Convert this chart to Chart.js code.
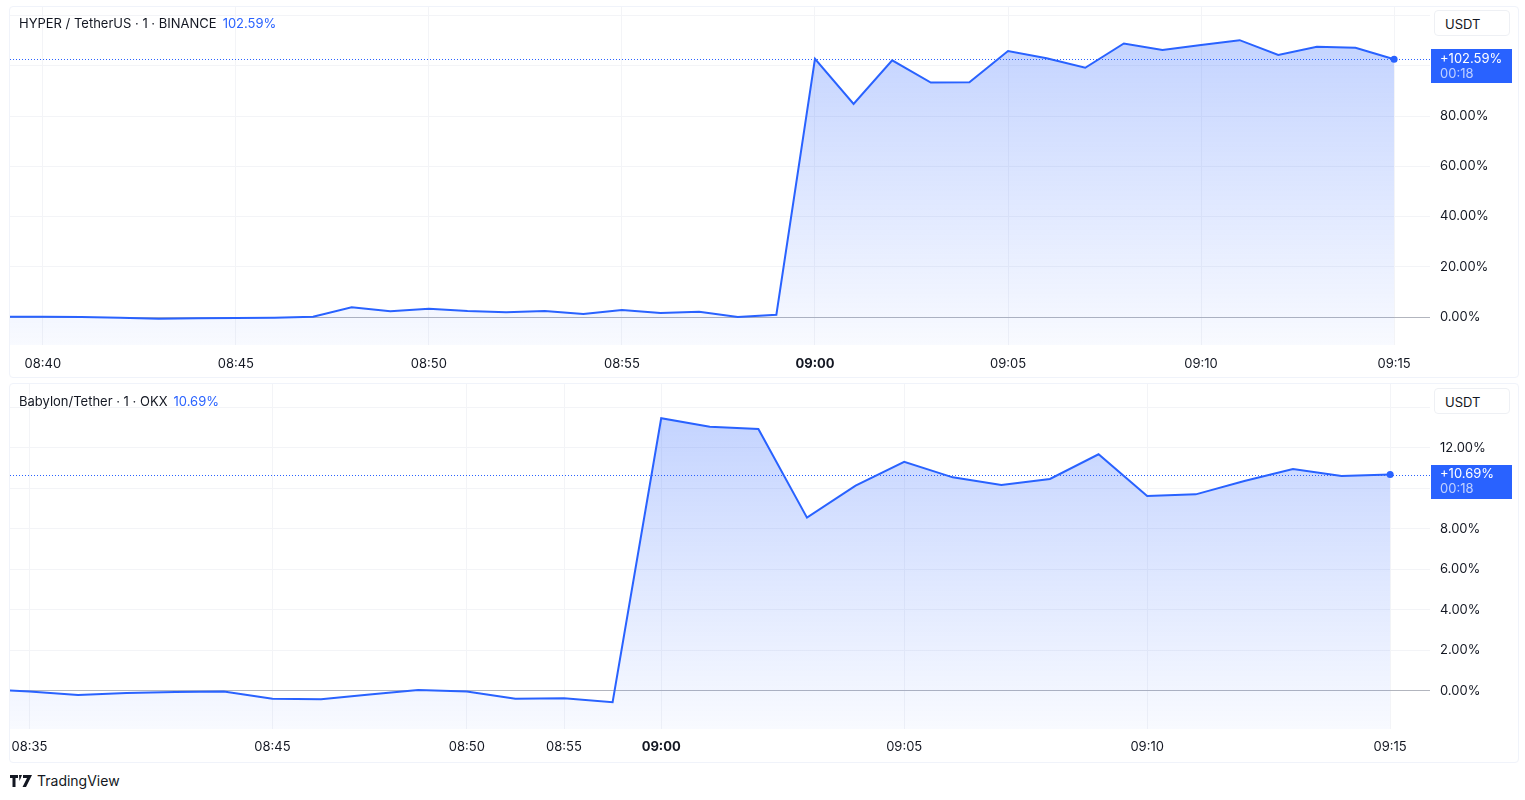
<!DOCTYPE html>
<html>
<head>
<meta charset="utf-8">
<title>HYPER vs Babylon</title>
<script src="https://cdn.jsdelivr.net/npm/chart.js@4.4.1/dist/chart.umd.min.js"></script>
<style>
  body { margin: 0; background: #ffffff; font-family: Inter, "Noto Sans", sans-serif; color: #131722; }
  #wrap { position: relative; width: 1525px; height: 800px; overflow: hidden; }
  .panel { position: absolute; left: 9px; width: 1508px; border: 1px solid #f0f3fa; border-radius: 4px; }
  canvas { position: absolute; left: 0; }
  .head { position: absolute; left: 19px; font-size: 13px; white-space: nowrap; }
  .head .pct { color: #2962ff; margin-left: 6px; }
  .unit { position: absolute; left: 1434px; width: 76px; height: 26px; border: 1px solid #eef0f4;
          border-radius: 4px; background: #fff; font-size: 13px; line-height: 26px; box-sizing: border-box;
          padding-left: 10px; }
  #brand { position: absolute; left: 10px; top: 772px; font-size: 14px; display: flex; align-items: center; }
  #brand svg { margin-right: 5px; }
</style>
</head>
<body>
<div id="wrap">
  <div class="panel" style="top:6px;height:370px"></div>
  <div class="panel" style="top:383px;height:378px"></div>
  <canvas id="topChart" width="1525" height="380" style="top:0"></canvas>
  <canvas id="bottomChart" width="1525" height="385" style="top:380px"></canvas>
  <div class="head" style="top:15px">HYPER / TetherUS · 1 · BINANCE<span class="pct">102.59%</span></div>
  <div class="head" style="top:393px">Babylon/Tether · 1 · OKX<span class="pct">10.69%</span></div>
  <div class="unit" style="top:10px">USDT</div>
  <div class="unit" style="top:388px">USDT</div>
  <div id="brand">
    <svg width="22" height="12" viewBox="0 0 22 12"><path d="M0 0h8v3H5.5v9h-3V3H0z M9 0h3l-2.5 6z M13 0h9l-6 12h-3.5l4.5-9H13z" fill="#131722"/></svg>
    TradingView
  </div>
</div>
<script>
// HYPER / TetherUS, 1 min candles, % change; slot 0 = 09:00, first slot = -21 (08:39)
const topValues = [
  0.1, 0.1, 0.0, -0.3, -0.7, -0.5, -0.4, -0.3, 0.1, 3.9, 2.3,
  3.3, 2.4, 1.9, 2.4, 1.2, 2.8, 1.6, 2.1, 0.0, 0.9,
  102.8, 84.8, 102.2, 93.3, 93.4, 105.9, 103.0, 99.2, 108.9, 106.3,
  108.3, 110.2, 104.3, 107.6, 107.2, 102.59
];
const topFirstSlot = -21;
const topTickSlots = [-20, -15, -10, -5, 0, 5, 10, 15];
const topTickLabels = ['08:40', '08:45', '08:50', '08:55', '09:00', '09:05', '09:10', '09:15'];
const topYTicks = [0, 20, 40, 60, 80, 100, 120];

// Babylon/Tether, candles are sparse before 09:00 so the axis is by bar, not by minute
const bottomValues = [
  0.1, -0.03, -0.2, -0.1, -0.05, -0.03, -0.39, -0.41, -0.18, 0.05,
  -0.03, -0.39, -0.36, -0.56,
  13.47, 13.05, 12.94, 8.56, 10.14, 11.32, 10.55, 10.17, 10.47, 11.69,
  9.63, 9.71, 10.37, 10.96, 10.62, 10.69
];
const bottomFirstSlot = -14;
const bottomTickSlots = [-13, -8, -4, -2, 0, 5, 10, 15];
const bottomTickLabels = ['08:35', '08:45', '08:50', '08:55', '09:00', '09:05', '09:10', '09:15'];
const bottomYTicks = [0, 2, 4, 6, 8, 10, 12, 14];

const BLUE = '#2962ff';
const FONT = 'Inter, "Noto Sans", sans-serif';

function toPoints(values, first) {
  return values.map((v, i) => ({ x: first + i, y: v }));
}

// dotted last-price line + blue price tag on the right axis
const lastPricePlugin = {
  id: 'lastPrice',
  afterDatasetsDraw(chart) {
    const pts = chart.data.datasets[0].data;
    const last = pts[pts.length - 1];
    const y = chart.scales.y.getPixelForValue(last.y);
    const a = chart.chartArea;
    const c = chart.ctx;
    c.save();
    c.strokeStyle = BLUE;
    c.lineWidth = 1;
    c.setLineDash([1, 2]);
    c.beginPath();
    c.moveTo(a.left, Math.round(y) + 0.5);
    c.lineTo(a.right, Math.round(y) + 0.5);
    c.stroke();
    c.restore();
  },
  afterDraw(chart) {
    const pts = chart.data.datasets[0].data;
    const last = pts[pts.length - 1];
    const y = chart.scales.y.getPixelForValue(last.y);
    const c = chart.ctx;
    c.save();
    c.fillStyle = BLUE;
    c.fillRect(1431, Math.round(y) - 10, 81, 34);
    c.font = '13px ' + FONT;
    c.textBaseline = 'middle';
    c.fillStyle = '#ffffff';
    c.fillText('+' + last.y.toFixed(2) + '%', 1440, y);
    c.fillStyle = 'rgba(255,255,255,0.7)';
    c.fillText('00:18', 1440, y + 15);
    c.restore();
  }
};

function makeChart(id, values, first, tickSlots, tickLabels, yTicks, opts) {
  const topTick = yTicks[yTicks.length - 1];
  return new Chart(document.getElementById(id), {
    type: 'line',
    data: {
      datasets: [{
        data: toPoints(values, first),
        borderColor: BLUE,
        borderWidth: 2,
        tension: 0,
        pointRadius: ctx => ctx.dataIndex === values.length - 1 ? 3.5 : 0,
        pointBackgroundColor: BLUE,
        pointBorderWidth: 0,
        fill: 'start',
        backgroundColor: ctx => {
          const a = ctx.chart.chartArea;
          if (!a) return 'rgba(41,98,255,0.15)';
          const g = ctx.chart.ctx.createLinearGradient(0, a.top, 0, a.bottom);
          g.addColorStop(0, 'rgba(41,98,255,0.30)');
          g.addColorStop(1, 'rgba(41,98,255,0.03)');
          return g;
        }
      }]
    },
    options: {
      responsive: false,
      animation: false,
      devicePixelRatio: 1,
      layout: { padding: { left: 10, top: opts.top, right: 0, bottom: 0 } },
      plugins: { legend: { display: false }, tooltip: { enabled: false } },
      scales: {
        x: {
          type: 'linear',
          min: opts.xMin,
          max: opts.xMax,
          border: { display: false },
          grid: { color: '#f3f4f7', drawTicks: false },
          afterBuildTicks: s => { s.ticks = tickSlots.map(v => ({ value: v })); },
          afterFit: s => { s.height = opts.xHeight; },
          ticks: {
            autoSkip: false,
            maxRotation: 0,
            padding: opts.xPad,
            color: '#131722',
            font: ctx => ({ family: FONT, size: 13, weight: ctx.tick && ctx.tick.value === 0 ? 'bold' : 'normal' }),
            callback: v => tickLabels[tickSlots.indexOf(v)]
          }
        },
        y: {
          position: 'right',
          min: opts.yMin,
          max: opts.yMax,
          border: { display: false },
          grid: {
            drawTicks: true,
            tickLength: 10,
            tickColor: 'rgba(0,0,0,0)',
            color: ctx => ctx.tick && ctx.tick.value === 0 ? '#b2b5be' : '#f3f4f7'
          },
          afterBuildTicks: s => { s.ticks = yTicks.map(v => ({ value: v })); },
          afterFit: s => { s.width = 95; },
          ticks: {
            padding: 0,
            color: '#131722',
            font: { family: FONT, size: 13, lineHeight: 0.5 },
            // top label sits under the USDT box
            callback: v => v === topTick ? '' : v.toFixed(2) + '%'
          }
        }
      }
    },
    plugins: [lastPricePlugin]
  });
}

makeChart('topChart', topValues, topFirstSlot, topTickSlots, topTickLabels, topYTicks,
  { top: 7, xMin: -20.85, xMax: 15.93, yMin: -11.14, yMax: 123.4, xHeight: 35, xPad: 11 });
makeChart('bottomChart', bottomValues, bottomFirstSlot, bottomTickSlots, bottomTickLabels, bottomYTicks,
  { top: 4, xMin: -13.4, xMax: 15.82, yMin: -1.88, yMax: 15.16, xHeight: 36, xPad: 10 });
</script>
</body>
</html>
